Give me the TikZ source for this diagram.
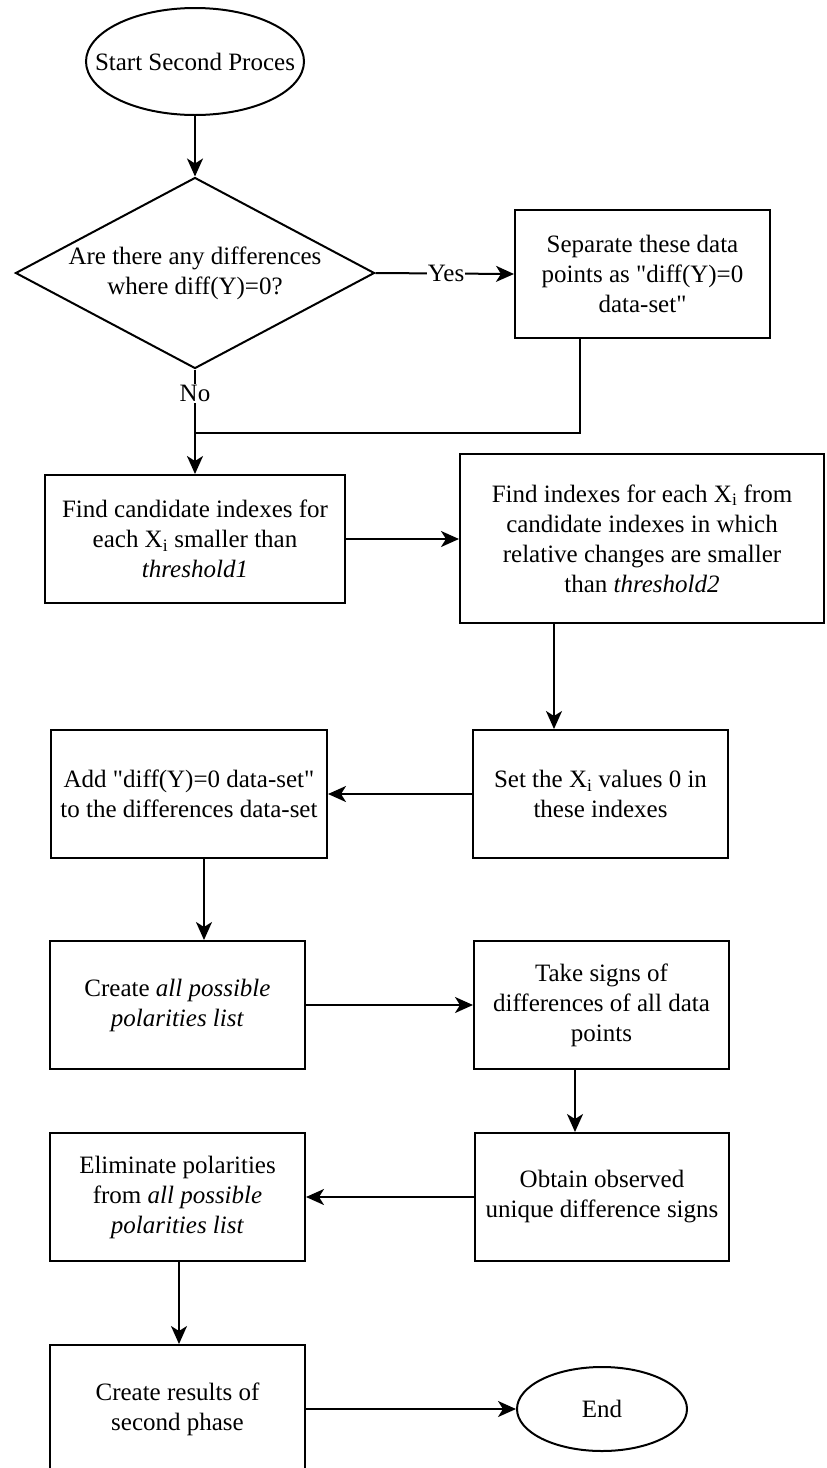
\documentclass[tikz,border=0pt]{standalone}
\usepackage{fontspec}
\setmainfont{Liberation Serif}[Ligatures=TeXOff]
\usetikzlibrary{arrows.meta,shapes.geometric}
\begin{document}
\begin{tikzpicture}[x=1pt,y=-1pt,
  every node/.style={font=\fontsize{25}{30}\selectfont},
  box/.style={draw,line width=2pt,rectangle,inner sep=0pt,align=center},
  oval/.style={draw,line width=2pt,ellipse,inner sep=0pt},
  arr/.style={line width=2pt,-{Stealth[length=18pt,width=16pt,inset=5pt]}},
  ln/.style={line width=2pt},
  lbl/.style={fill=white,inner sep=1pt}]
\clip (0,0) rectangle (827,1468);
\fill[white] (0,0) rectangle (827,1468);

\node[oval,minimum width=218pt,minimum height=107pt,label={center:Start Second Proces}] (start) at (195,61.5) {};
\node[diamond,draw,line width=2pt,inner sep=0pt,minimum width=359pt,minimum height=191pt,label={center:{\begin{tabular}{@{}c@{}}Are there any differences\\where diff(Y)=0?\end{tabular}}}] (dec) at (195,273) {};
\node[box,minimum width=255pt,minimum height=128pt] (sep) at (642.5,274) {Separate these data\\points as "diff(Y)=0\\data-set"};
\coordinate (j) at (195,433);
\node[box,minimum width=300pt,minimum height=128pt] (cand) at (195,539) {Find candidate indexes for\\each X\textsubscript{i} smaller than\\\textit{threshold1}};
\node[box,minimum width=364pt,minimum height=169pt] (fidx) at (642,538.5) {Find indexes for each X\textsubscript{i} from\\candidate indexes in which\\relative changes are smaller\\than \textit{threshold2}};
\node[box,minimum width=255pt,minimum height=128pt] (setx) at (600.5,794) {Set the X\textsubscript{i} values 0 in\\these indexes};
\node[box,minimum width=276pt,minimum height=128pt] (add) at (189,794) {Add "diff(Y)=0 data-set"\\to the differences data-set};
\node[box,minimum width=255pt,minimum height=128pt] (cre) at (177.5,1005) {Create \textit{all possible}\\\textit{polarities list}};
\node[box,minimum width=255pt,minimum height=128pt] (take) at (601.5,1005) {Take signs of\\differences of all data\\points};
\node[box,minimum width=254pt,minimum height=128pt] (obt) at (602,1197) {Obtain observed\\unique difference signs};
\node[box,minimum width=255pt,minimum height=128pt] (elim) at (177.5,1197) {Eliminate polarities\\from \textit{all possible}\\\textit{polarities list}};
\node[box,minimum width=255pt,minimum height=128pt] (res) at (177.5,1409) {Create results of\\second phase};
\node[oval,minimum width=170pt,minimum height=84pt] (endn) at (602,1409) {End};

\draw[arr] (start.south) -- (dec.north);
\draw[arr] (dec.east) -- node[lbl,pos=0.51] {Yes} (sep.west);
\draw[arr] (dec.south) -- node[lbl,pos=0.23] {No} (cand.north);
\draw[ln] ([xshift=-62.5pt]sep.south) |- (j);
\draw[arr] (cand.east) -- (cand.east -| fidx.west);
\draw[arr] ([xshift=-88pt]fidx.south) -- ([xshift=-88pt]fidx.south |- setx.north);
\draw[arr] (setx.west) -- (setx.west -| add.east);
\draw[arr] ([xshift=15pt]add.south) -- ([xshift=15pt]add.south |- cre.north);
\draw[arr] (cre.east) -- (cre.east -| take.west);
\draw[arr] ([xshift=-26.5pt]take.south) -- ([xshift=-26.5pt]take.south |- obt.north);
\draw[arr] (obt.west) -- (obt.west -| elim.east);
\draw[arr] ([xshift=1.5pt]elim.south) -- ([xshift=1.5pt]elim.south |- res.north);
\draw[arr] (res.east) -- (endn.west);
\end{tikzpicture}
\end{document}
